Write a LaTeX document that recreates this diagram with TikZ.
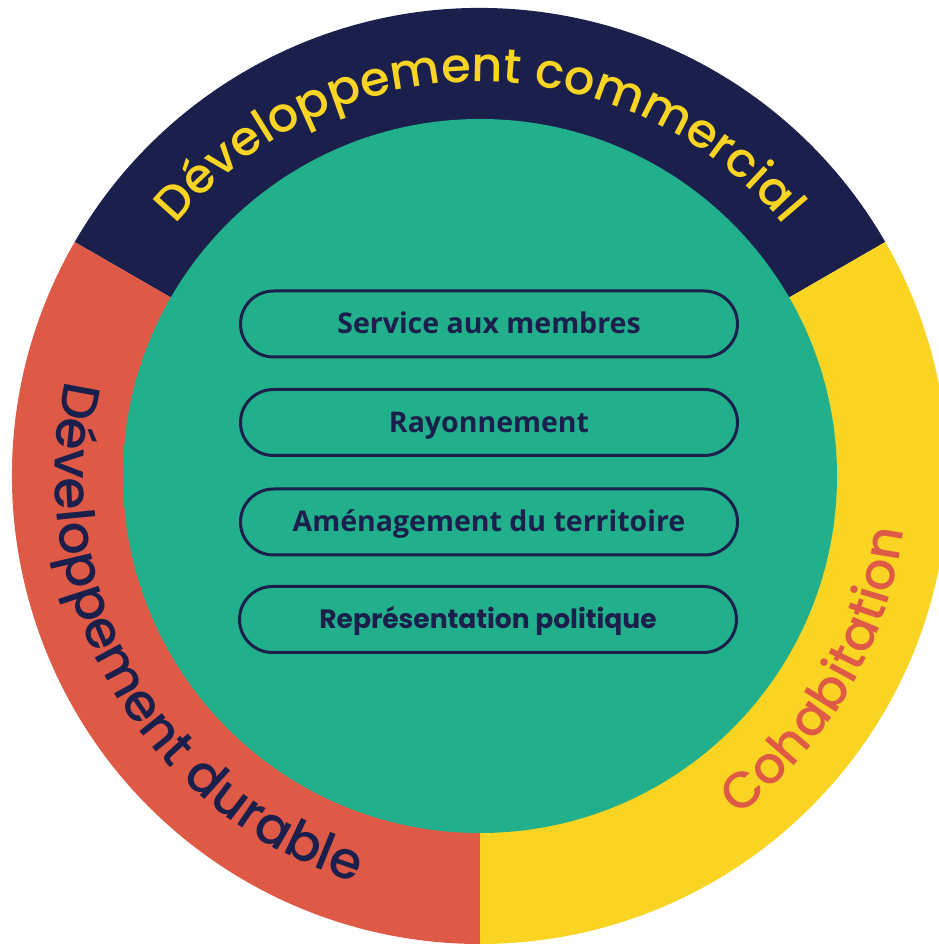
\documentclass[tikz,border=0pt]{standalone}
\usepackage{fontspec}
\setmainfont{Open Sans}
\newfontfamily\ringfont{Poppins}[UprightFont={* Medium}]
\newfontfamily\polfont{Poppins}
\usetikzlibrary{decorations.text}
\definecolor{navy}{HTML}{1B1F4B}
\definecolor{redseg}{HTML}{DE5A46}
\definecolor{yellowseg}{HTML}{F9D423}
\definecolor{greenseg}{HTML}{22AF8C}
\begin{document}
\begin{tikzpicture}[x=1pt,y=1pt,
    pill/.style={draw=navy, line width=3pt, rounded corners=33pt,
        minimum width=497pt, minimum height=66pt, text=navy,
        text height=20pt, text depth=0pt,
        font=\bfseries\fontsize{28.5}{28.5}\selectfont}]
    \useasboundingbox (0,0) rectangle (939,945);
    \clip (0,0) rectangle (939,945);

    \begin{scope}[shift={(480,469)}]
        \fill[navy] (0,0) -- (30:468pt) arc[start angle=30, end angle=150, radius=468pt] -- cycle;
        \fill[redseg] (0,0) -- (150:468pt) arc[start angle=150, end angle=270, radius=468pt] -- cycle;
        \fill[yellowseg] (0,0) -- (270:468pt) arc[start angle=270, end angle=390, radius=468pt] -- cycle;
        \fill[greenseg] (0,0) circle[radius=357pt];

        \path[decorate, decoration={text along path, text align=center, text color=yellowseg,
            text={|\ringfont\fontsize{48}{48}\selectfont|Développement commercial}}]
            (150:394pt) arc[start angle=150, end angle=30, radius=394pt];
        \path[decorate, decoration={text along path, text align=center, text color=navy,
            text={|\ringfont\fontsize{52}{52}\selectfont|Développement durable}}]
            (150:425pt) arc[start angle=150, end angle=270, radius=425pt];
        \path[decorate, decoration={text along path, text align=center, text color=redseg,
            text={|\ringfont\fontsize{51}{51}\selectfont|Cohabitation}}]
            (270:427pt) arc[start angle=270, end angle=390, radius=427pt];
    \end{scope}

    \node[pill] (membres) at (489,621) {Service aux membres};
    \node[pill] (rayonnement) at (489,522.5) {Rayonnement};
    \node[pill] (amenagement) at (489,423) {Aménagement du territoire};
    \node[pill, text height=18.5pt, font=\polfont\bfseries\fontsize{26.5}{26.5}\selectfont]
        (politique) at (488,325.5) {Représentation politique};
\end{tikzpicture}
\end{document}
